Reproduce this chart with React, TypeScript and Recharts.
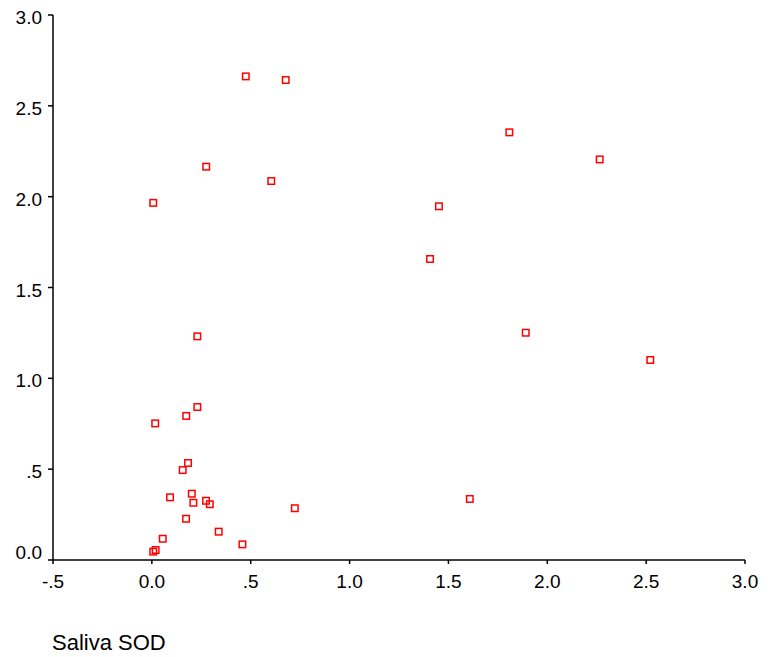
import React from 'react';
import { ScatterChart, Scatter, XAxis, YAxis } from 'recharts';

const xValues = [0.475, 0.677, 1.808, 2.265, 0.275, 0.604, 0.007, 1.452, 1.407, 1.891, 0.230, 2.521, 0.230, 0.174, 0.017, 0.183, 0.156, 0.092, 0.202, 0.210, 0.274, 0.293, 0.723, 1.608, 0.173, 0.338, 0.458, 0.055, 0.007, 0.019];
const yValues = [2.662, 2.642, 2.354, 2.205, 2.165, 2.086, 1.966, 1.947, 1.657, 1.251, 1.231, 1.101, 0.842, 0.793, 0.752, 0.534, 0.495, 0.345, 0.365, 0.315, 0.326, 0.307, 0.285, 0.336, 0.227, 0.156, 0.086, 0.117, 0.046, 0.055];
const xTicks = [-0.5, 0, 0.5, 1.0, 1.5, 2.0, 2.5, 3.0];
const yTicks = [0, 0.5, 1.0, 1.5, 2.0, 2.5, 3.0];
const xTitle = 'Saliva SOD';

const points = xValues.map((x, i) => ({ x, y: yValues[i] }));

const FONT = 'Arial, "Liberation Sans", sans-serif';

const fmt = (v: number) => {
  if (v === 0) return '0.0';
  const s = v.toFixed(1);
  if (Math.abs(v) < 1) return s.replace('0.', '.');
  return s;
};

const Square = (props: any) => {
  const { cx, cy } = props;
  if (cx == null || cy == null) return null;
  return <rect x={cx - 3.25} y={cy - 3.25} width={6.5} height={6.5} fill="none" stroke="#ff0000" strokeWidth={1.5} />;
};

const YTick = (props: any) => {
  const { x, y, payload } = props;
  const v = payload.value;
  return (
    <text x={x} y={y} dy={v === 0 ? -1 : 9} textAnchor="end" fontSize={19} fontFamily={FONT} fill="#000">
      {fmt(v)}
    </text>
  );
};

const TitleLabel = (props: any) => {
  const vb = props.viewBox || { x: 45, y: 552 };
  return (
    <text x={vb.x - 1} y={vb.y + 90} fontSize={22} fontFamily={FONT} fill="#000">
      {xTitle}
    </text>
  );
};

export default function App() {
  return (
    <ScatterChart width={763} height={649} margin={{ top: 7, right: 26, bottom: 57, left: 0 }}>
      <XAxis
        type="number"
        dataKey="x"
        domain={[-0.5, 3]}
        ticks={xTicks}
        tickFormatter={fmt}
        interval={0}
        height={40}
        tickSize={4}
        tickMargin={11}
        axisLine={{ stroke: '#000', strokeWidth: 1.5 }}
        tickLine={{ stroke: '#000', strokeWidth: 1.5 }}
        tick={{ fontSize: 19, fontFamily: FONT, fill: '#000' }}
        label={<TitleLabel />}
      />
      <YAxis
        type="number"
        dataKey="y"
        domain={[0, 3]}
        ticks={yTicks}
        interval={0}
        width={45}
        tickSize={5}
        tickMargin={6}
        axisLine={{ stroke: '#000', strokeWidth: 1.5 }}
        tickLine={{ stroke: '#000', strokeWidth: 1.5 }}
        tick={<YTick />}
      />
      <Scatter data={points} shape={<Square />} isAnimationActive={false} />
    </ScatterChart>
  );
}
